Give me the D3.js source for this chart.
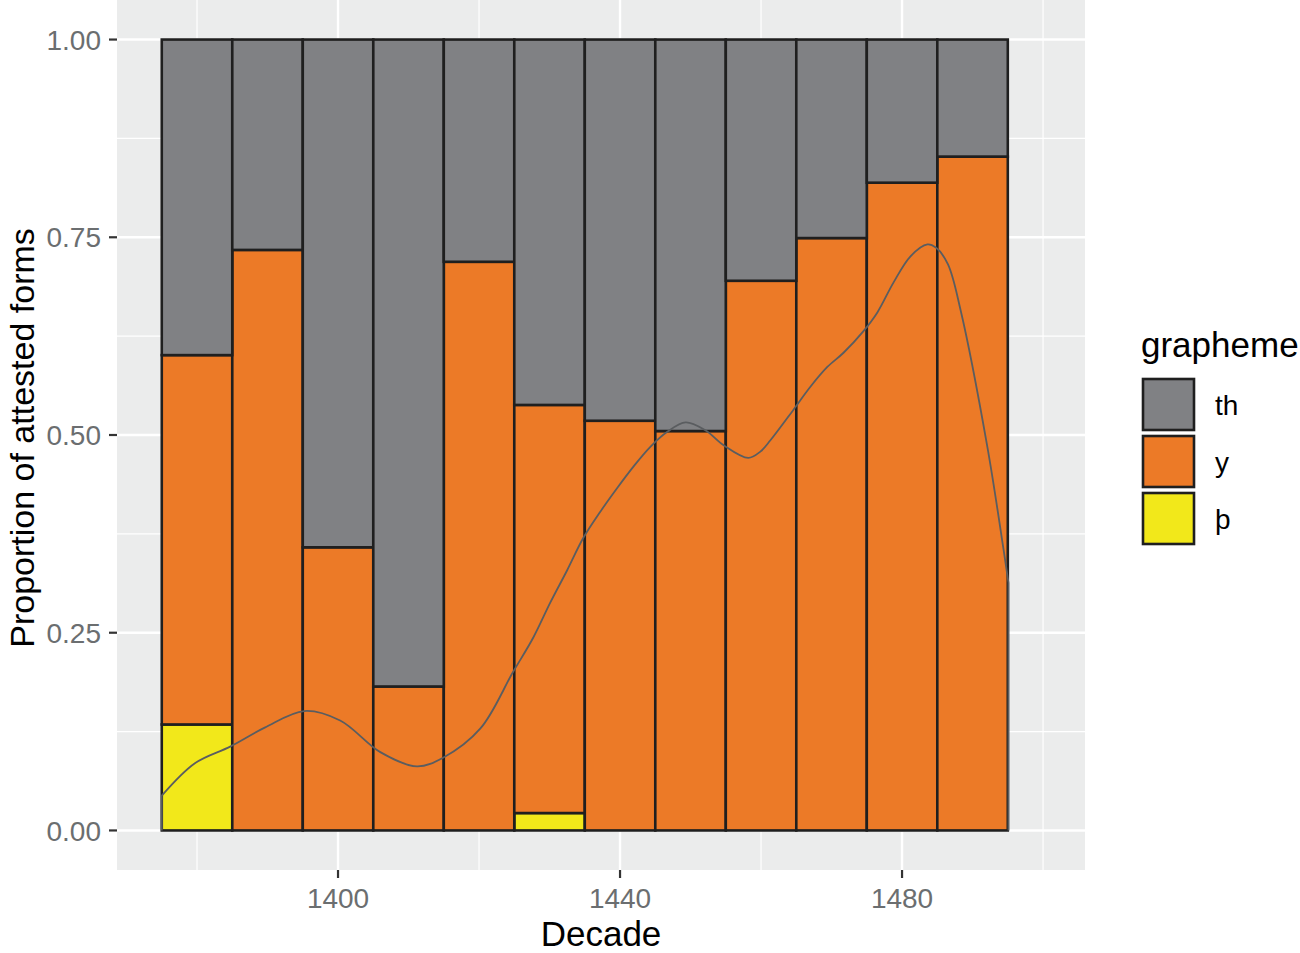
<!DOCTYPE html>
<html>
<head>
<meta charset="utf-8">
<script src="https://cdn.jsdelivr.net/npm/d3@7"></script>
<style>
  body { margin: 0; background: #fff; }
  svg { font-family: "Liberation Sans", Arial, sans-serif; }
</style>
</head>
<body>
<script>
// decades and proportion of each grapheme
var decades = [1380, 1390, 1400, 1410, 1420, 1430, 1440, 1450, 1460, 1470, 1480, 1490];
var thorn = [0.134, 0, 0, 0, 0, 0.022, 0, 0, 0, 0, 0, 0];
var yVals = [0.467, 0.734, 0.358, 0.182, 0.719, 0.516, 0.518, 0.505, 0.695, 0.749, 0.819, 0.852];
var thVals = [0.399, 0.266, 0.642, 0.818, 0.281, 0.462, 0.482, 0.495, 0.305, 0.251, 0.181, 0.148];

// smoothed line
var curveYears = [1375.0, 1379.7, 1384.7, 1389.6, 1395.2, 1400.3, 1406.0, 1411.2, 1414.9, 1420.2,
  1424.8, 1427.7, 1430.1, 1432.5, 1434.8, 1437.2, 1439.6, 1441.9, 1444.3, 1446.7, 1449.3,
  1452.1, 1454.7, 1458.2, 1459.9, 1461.3, 1464.6, 1467.0, 1469.4, 1471.7, 1474.5, 1476.5, 1478.8,
  1481.2, 1483.6, 1484.8, 1486.5, 1488.3, 1492.1, 1494.4, 1495.1];
var curveVals = [0.044, 0.085, 0.106, 0.130, 0.151, 0.139, 0.099, 0.081, 0.092, 0.129,
  0.200, 0.244, 0.288, 0.329, 0.370, 0.403, 0.433, 0.460, 0.485, 0.504, 0.516,
  0.506, 0.487, 0.471, 0.479, 0.493, 0.532, 0.561, 0.586, 0.604, 0.631, 0.655, 0.693,
  0.726, 0.741, 0.737, 0.716, 0.658, 0.485, 0.355, 0.313];

var xTicks = [1400, 1440, 1480];
var xMinor = [1380, 1420, 1460, 1500];
var yTicks = [0, 0.25, 0.5, 0.75, 1];
var yMinor = [0.125, 0.375, 0.625, 0.875];

var keys = ["þ", "y", "th"];
var colors = { "th": "#808184", "y": "#ec7a27", "þ": "#f2e81a" };

var W = 1300, H = 953;
var panel = { left: 117, right: 1085, top: 0, bottom: 870 };

var svg = d3.select("body").append("svg").attr("width", W).attr("height", H);

var x = d3.scaleLinear().domain([1368.65, 1505.95]).range([panel.left, panel.right]);
var y = d3.scaleLinear().domain([-0.05, 1.05]).range([panel.bottom, panel.top]);

// panel background + grid
svg.append("rect").attr("x", panel.left).attr("y", panel.top)
  .attr("width", panel.right - panel.left).attr("height", panel.bottom - panel.top)
  .attr("fill", "#ebecec");

var grid = svg.append("g");
grid.selectAll(".xmin").data(xMinor).enter().append("line")
  .attr("x1", x).attr("x2", x).attr("y1", panel.top).attr("y2", panel.bottom)
  .attr("stroke", "#fff").attr("stroke-width", 1.2);
grid.selectAll(".ymin").data(yMinor).enter().append("line")
  .attr("y1", y).attr("y2", y).attr("x1", panel.left).attr("x2", panel.right)
  .attr("stroke", "#fff").attr("stroke-width", 1.2);
grid.selectAll(".xmaj").data(xTicks).enter().append("line")
  .attr("x1", x).attr("x2", x).attr("y1", panel.top).attr("y2", panel.bottom)
  .attr("stroke", "#fff").attr("stroke-width", 2.4);
grid.selectAll(".ymaj").data(yTicks).enter().append("line")
  .attr("y1", y).attr("y2", y).attr("x1", panel.left).attr("x2", panel.right)
  .attr("stroke", "#fff").attr("stroke-width", 2.4);

// stacked bars
var rows = decades.map(function(d, i) {
  return { decade: d, "þ": thorn[i], "y": yVals[i], "th": thVals[i] };
});
var series = d3.stack().keys(keys)(rows);

svg.append("g").selectAll("g").data(series).enter().append("g")
  .attr("fill", function(s) { return colors[s.key]; })
  .selectAll("rect").data(function(s) { return s.filter(function(d) { return d[1] - d[0] > 0; }); })
  .enter().append("rect")
  .attr("x", function(d) { return x(d.data.decade - 5); })
  .attr("width", function(d) { return x(d.data.decade + 5) - x(d.data.decade - 5); })
  .attr("y", function(d) { return y(d[1]); })
  .attr("height", function(d) { return y(d[0]) - y(d[1]); })
  .attr("stroke", "#1f1f1f").attr("stroke-width", 2.6);

// smooth line, outlined down to the baseline at both ends
var pts = curveYears.map(function(yr, i) { return [yr, curveVals[i]]; });
var line = d3.line().x(function(d) { return x(d[0]); }).y(function(d) { return y(d[1]); })
  .curve(d3.curveCatmullRom.alpha(0.5));
svg.append("path")
  .attr("d", "M" + x(curveYears[0]) + "," + y(0) + "L" + line(pts).slice(1) + "L" + x(curveYears[curveYears.length - 1]) + "," + y(0))
  .attr("fill", "none").attr("stroke", "#5a5d60").attr("stroke-width", 1.8);

// axes
var axisCol = "#333";
var labCol = "#6b6e70";
svg.append("g").selectAll("line").data(yTicks).enter().append("line")
  .attr("x1", panel.left - 8).attr("x2", panel.left).attr("y1", y).attr("y2", y)
  .attr("stroke", axisCol).attr("stroke-width", 2.2);
svg.append("g").selectAll("text").data(yTicks).enter().append("text")
  .attr("x", panel.left - 16).attr("y", y).attr("dy", "0.36em")
  .attr("text-anchor", "end").attr("font-size", 28).attr("fill", labCol)
  .text(d3.format(".2f"));

svg.append("g").selectAll("line").data(xTicks).enter().append("line")
  .attr("x1", x).attr("x2", x).attr("y1", panel.bottom).attr("y2", panel.bottom + 8)
  .attr("stroke", axisCol).attr("stroke-width", 2.2);
svg.append("g").selectAll("text").data(xTicks).enter().append("text")
  .attr("x", x).attr("y", 908)
  .attr("text-anchor", "middle").attr("font-size", 28).attr("fill", labCol)
  .text(function(d) { return d; });

svg.append("text").attr("x", (panel.left + panel.right) / 2).attr("y", 946)
  .attr("text-anchor", "middle").attr("font-size", 35).attr("fill", "#000")
  .text("Decade");
svg.append("text").attr("transform", "translate(34," + ((panel.top + panel.bottom) / 2 + 3) + ") rotate(-90)")
  .attr("text-anchor", "middle").attr("font-size", 34).attr("fill", "#000")
  .text("Proportion of attested forms");

// legend
var legend = svg.append("g");
legend.append("text").attr("x", 1141).attr("y", 357).attr("font-size", 35).attr("fill", "#000")
  .text("grapheme");
var legendKeys = ["th", "y", "þ"];
var items = legend.selectAll(".item").data(legendKeys).enter().append("g")
  .attr("transform", function(d, i) { return "translate(1143," + (379 + i * 57) + ")"; });
items.append("rect").attr("width", 51).attr("height", 51)
  .attr("fill", function(d) { return colors[d]; })
  .attr("stroke", "#1f1f1f").attr("stroke-width", 2.6);
items.append("text").attr("x", 72).attr("y", 26).attr("dy", "0.36em")
  .attr("font-size", 28).attr("fill", "#000").text(function(d) { return d; });
</script>
</body>
</html>
